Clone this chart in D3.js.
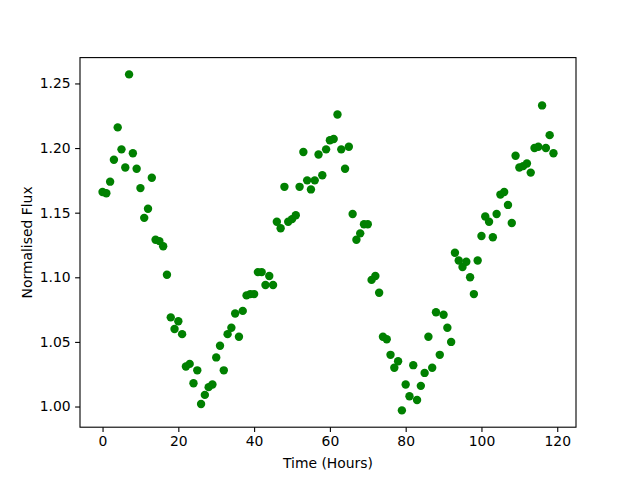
<!DOCTYPE html>
<html>
<head>
<meta charset="utf-8">
<script src="https://cdn.jsdelivr.net/npm/d3@7"></script>
<style>
  body { margin: 0; background: #fff; }
  svg text { font-family: "DejaVu Sans", sans-serif; }
</style>
</head>
<body>
<svg id="chart" width="640" height="480"></svg>
<script>
// time of each observation, hours
const hours = [
  0, 1, 2, 3, 4, 5, 6, 7, 8, 9,
  10, 11, 12, 13, 14, 15, 16, 17, 18, 19,
  20, 21, 22, 23, 24, 25, 26, 27, 28, 29,
  30, 31, 32, 33, 34, 35, 36, 37, 38, 39,
  40, 41, 42, 43, 44, 45, 46, 47, 48, 49,
  50, 51, 52, 53, 54, 55, 56, 57, 58, 59,
  60, 61, 62, 63, 64, 65, 66, 67, 68, 69,
  70, 71, 72, 73, 74, 75, 76, 77, 78, 79,
  80, 81, 82, 83, 84, 85, 86, 87, 88, 89,
  90, 91, 92, 93, 94, 95, 96, 97, 98, 99,
  100, 101, 102, 103, 104, 105, 106, 107, 108, 109,
  110, 111, 112, 113, 114, 115, 116, 117, 118, 119
];
// normalised flux at each time
const flux = [
  1.166, 1.165, 1.174, 1.191, 1.216, 1.199, 1.185, 1.257, 1.196, 1.184,
  1.169, 1.146, 1.153, 1.177, 1.129, 1.128, 1.124, 1.102, 1.069, 1.060,
  1.066, 1.056, 1.031, 1.033, 1.018, 1.028, 1.002, 1.009, 1.015, 1.017,
  1.038, 1.047, 1.028, 1.056, 1.061, 1.072, 1.054, 1.074, 1.086, 1.087,
  1.087, 1.104, 1.104, 1.094, 1.101, 1.094, 1.143, 1.138, 1.170, 1.143,
  1.145, 1.148, 1.170, 1.197, 1.175, 1.168, 1.175, 1.195, 1.179, 1.199,
  1.206, 1.207, 1.226, 1.199, 1.184, 1.201, 1.149, 1.129, 1.134, 1.141,
  1.141, 1.098, 1.101, 1.088, 1.054, 1.052, 1.040, 1.030, 1.035, 0.997,
  1.017, 1.008, 1.032, 1.005, 1.016, 1.026, 1.054, 1.030, 1.073, 1.040,
  1.071, 1.061, 1.050, 1.119, 1.113, 1.108, 1.112, 1.100, 1.087, 1.113,
  1.132, 1.147, 1.143, 1.131, 1.149, 1.164, 1.166, 1.156, 1.142, 1.194,
  1.185, 1.186, 1.188, 1.181, 1.200, 1.201, 1.233, 1.200, 1.210, 1.196
];
const xTicks = [0, 20, 40, 60, 80, 100, 120];
const yTicks = [1.00, 1.05, 1.10, 1.15, 1.20, 1.25];

const svg = d3.select("svg#chart");
const margin = { top: 57.6, right: 64, bottom: 52.8, left: 80 };
const width = 640 - margin.left - margin.right;
const height = 480 - margin.top - margin.bottom;

const points = hours.map((h, i) => ({ t: h, f: flux[i] }));

// matplotlib style 5% padding around the data
function padded(ext) {
  const d = (ext[1] - ext[0]) * 0.05;
  return [ext[0] - d, ext[1] + d];
}
const x = d3.scaleLinear().domain(padded(d3.extent(hours))).range([0, width]);
const y = d3.scaleLinear().domain(padded(d3.extent(flux))).range([height, 0]);

const g = svg.append("g")
  .attr("transform", `translate(${margin.left},${margin.top})`);

g.append("g").attr("id", "points")
  .selectAll("circle")
  .data(points)
  .join("circle")
  .attr("cx", d => x(d.t))
  .attr("cy", d => y(d.f))
  .attr("r", 4.2)
  .attr("fill", "#008000");

const xAxis = g.append("g")
  .attr("transform", `translate(0,${height})`)
  .call(d3.axisBottom(x).tickValues(xTicks).tickSize(4.9).tickPadding(4.5).tickFormat(d3.format("d")));
const yAxis = g.append("g")
  .call(d3.axisLeft(y).tickValues(yTicks).tickSize(4.9).tickPadding(4.5).tickFormat(d3.format(".2f")));

[xAxis, yAxis].forEach(a => {
  a.select(".domain").remove();
  a.selectAll(".tick line").attr("stroke", "#000").attr("stroke-width", 1.1);
  a.selectAll(".tick text")
    .attr("fill", "#000")
    .attr("font-size", 13.9)
    .attr("font-family", "DejaVu Sans");
});

// frame
g.append("rect")
  .attr("width", width)
  .attr("height", height)
  .attr("fill", "none")
  .attr("stroke", "#000")
  .attr("stroke-width", 1.1);

svg.append("text")
  .attr("x", margin.left + width / 2)
  .attr("y", 468)
  .attr("text-anchor", "middle")
  .attr("font-size", 13.9)
  .text("Time (Hours)");

svg.append("text")
  .attr("transform", `translate(32,${margin.top + height / 2}) rotate(-90)`)
  .attr("text-anchor", "middle")
  .attr("font-size", 13.9)
  .text("Normalised Flux");
</script>
</body>
</html>
